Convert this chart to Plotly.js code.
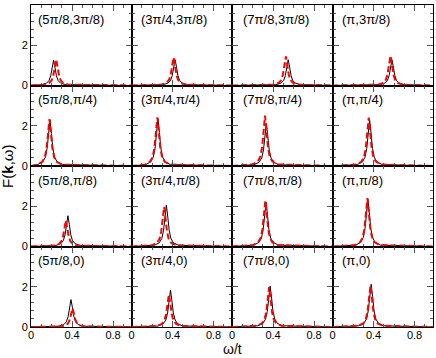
<!DOCTYPE html>
<html><head><meta charset="utf-8">
<script src="https://cdn.plot.ly/plotly-3.0.1.min.js"></script>
<style>html,body{margin:0;padding:0;background:#fff}#c{width:436px;height:358px}</style>
</head><body><div id="c"></div>
<script>
// panel labels (k_x, k_y), row by row from top
const panelLabels = [
  "(5π/8,3π/8)","(3π/4,3π/8)","(7π/8,3π/8)","(π,3π/8)",
  "(5π/8,π/4)","(3π/4,π/4)","(7π/8,π/4)","(π,π/4)",
  "(5π/8,π/8)","(3π/4,π/8)","(7π/8,π/8)","(π,π/8)",
  "(5π/8,0)","(3π/4,0)","(7π/8,0)","(π,0)"
];
const xTickVals = [0, 0.4, 0.8];
const xTickText = ["0", "0.4", "0.8"];
const yTickVals = [0, 2, 4];

// omega/t values, black (solid) curves, one list per panel
const omegaBlack = [
  [0,0.10,0.15,0.175,0.192,0.206,0.22,0.234,0.248,0.265,0.29,0.34,0.98],
  [0,0.305,0.355,0.38,0.397,0.411,0.425,0.439,0.453,0.47,0.495,0.545,0.98],
  [0,0.428,0.478,0.503,0.52,0.534,0.548,0.562,0.576,0.593,0.618,0.668,0.98],
  [0,0.46,0.51,0.535,0.552,0.566,0.58,0.594,0.608,0.625,0.65,0.70,0.98],
  [0,0.065,0.115,0.14,0.157,0.171,0.185,0.199,0.213,0.23,0.255,0.305,0.98],
  [0,0.138,0.188,0.213,0.23,0.244,0.258,0.272,0.286,0.303,0.328,0.378,0.98],
  [0,0.215,0.265,0.29,0.307,0.321,0.335,0.349,0.363,0.38,0.405,0.455,0.98],
  [0,0.242,0.292,0.317,0.334,0.348,0.362,0.376,0.39,0.407,0.432,0.482,0.98],
  [0,0.24,0.29,0.315,0.332,0.346,0.36,0.374,0.388,0.405,0.43,0.48,0.98],
  [0,0.22,0.27,0.295,0.312,0.326,0.34,0.354,0.368,0.385,0.41,0.46,0.98],
  [0,0.212,0.262,0.287,0.304,0.318,0.332,0.346,0.36,0.377,0.402,0.452,0.98],
  [0,0.225,0.275,0.30,0.317,0.331,0.345,0.359,0.373,0.39,0.415,0.465,0.98],
  [0,0.27,0.32,0.345,0.362,0.376,0.39,0.404,0.418,0.435,0.46,0.51,0.98],
  [0,0.26,0.31,0.335,0.352,0.366,0.38,0.394,0.408,0.425,0.45,0.50,0.98],
  [0,0.252,0.302,0.327,0.344,0.358,0.372,0.386,0.40,0.417,0.442,0.492,0.98],
  [0,0.257,0.307,0.332,0.349,0.363,0.377,0.391,0.405,0.422,0.447,0.497,0.98]
];
// F(k,omega), black curves
const fBlack = [
  [0,0.04,0.11,0.24,0.48,0.89,1.25,0.89,0.48,0.24,0.11,0.04,0],
  [0,0.04,0.12,0.24,0.49,0.91,1.28,0.91,0.49,0.24,0.12,0.04,0],
  [0,0.04,0.12,0.24,0.49,0.91,1.28,0.91,0.49,0.24,0.12,0.04,0],
  [0,0.04,0.12,0.24,0.49,0.91,1.28,0.91,0.49,0.24,0.12,0.04,0],
  [0,0.07,0.21,0.43,0.87,1.62,2.28,1.62,0.87,0.43,0.21,0.07,0],
  [0,0.07,0.21,0.45,0.89,1.67,2.35,1.67,0.89,0.45,0.21,0.07,0],
  [0,0.06,0.19,0.40,0.80,1.49,2.10,1.49,0.80,0.40,0.19,0.06,0],
  [0,0.07,0.21,0.44,0.87,1.63,2.30,1.63,0.87,0.44,0.21,0.07,0],
  [0,0.05,0.14,0.29,0.58,1.09,1.53,1.09,0.58,0.29,0.14,0.05,0],
  [0,0.06,0.18,0.39,0.78,1.46,2.05,1.46,0.78,0.39,0.18,0.06,0],
  [0,0.07,0.20,0.42,0.84,1.56,2.20,1.56,0.84,0.42,0.20,0.07,0],
  [0,0.07,0.21,0.45,0.89,1.67,2.35,1.67,0.89,0.45,0.21,0.07,0],
  [0,0.04,0.12,0.26,0.52,0.97,1.36,0.97,0.52,0.26,0.12,0.04,0],
  [0,0.05,0.16,0.35,0.70,1.30,1.83,1.30,0.70,0.35,0.16,0.05,0],
  [0,0.06,0.18,0.39,0.77,1.44,2.03,1.44,0.77,0.39,0.18,0.06,0],
  [0,0.06,0.19,0.40,0.81,1.51,2.12,1.51,0.81,0.40,0.19,0.06,0]
];
// omega/t values, red (dashed) curves
const omegaRed = [
  [0,0.125,0.175,0.2,0.217,0.231,0.245,0.259,0.273,0.29,0.315,0.365,0.98],
  [0,0.29,0.34,0.365,0.382,0.396,0.41,0.424,0.438,0.455,0.48,0.53,0.98],
  [0,0.405,0.455,0.48,0.497,0.511,0.525,0.539,0.553,0.57,0.595,0.645,0.98],
  [0,0.445,0.495,0.52,0.537,0.551,0.565,0.579,0.593,0.61,0.635,0.685,0.98],
  [0,0.06,0.11,0.135,0.152,0.166,0.18,0.194,0.208,0.225,0.25,0.30,0.98],
  [0,0.132,0.182,0.207,0.224,0.238,0.252,0.266,0.28,0.297,0.322,0.372,0.98],
  [0,0.202,0.252,0.277,0.294,0.308,0.322,0.336,0.35,0.367,0.392,0.442,0.98],
  [0,0.233,0.283,0.308,0.325,0.339,0.353,0.367,0.381,0.398,0.423,0.473,0.98],
  [0,0.22,0.27,0.295,0.312,0.326,0.34,0.354,0.368,0.385,0.41,0.46,0.98],
  [0,0.198,0.248,0.273,0.29,0.304,0.318,0.332,0.346,0.363,0.388,0.438,0.98],
  [0,0.205,0.255,0.28,0.297,0.311,0.325,0.339,0.353,0.37,0.395,0.445,0.98],
  [0,0.22,0.27,0.295,0.312,0.326,0.34,0.354,0.368,0.385,0.41,0.46,0.98],
  [0,0.285,0.335,0.36,0.377,0.391,0.405,0.419,0.433,0.45,0.475,0.525,0.98],
  [0,0.245,0.295,0.32,0.337,0.351,0.365,0.379,0.393,0.41,0.435,0.485,0.98],
  [0,0.242,0.292,0.317,0.334,0.348,0.362,0.376,0.39,0.407,0.432,0.482,0.98],
  [0,0.25,0.30,0.325,0.342,0.356,0.37,0.384,0.398,0.415,0.44,0.49,0.98]
];
// F(k,omega), red curves
const fRed = [
  [0,0.04,0.12,0.25,0.49,0.92,1.30,0.92,0.49,0.25,0.12,0.04,0],
  [0,0.04,0.13,0.27,0.53,0.99,1.40,0.99,0.53,0.27,0.13,0.04,0],
  [0,0.04,0.13,0.27,0.55,1.02,1.44,1.02,0.55,0.27,0.13,0.04,0],
  [0,0.04,0.13,0.28,0.56,1.05,1.48,1.05,0.56,0.28,0.13,0.04,0],
  [0,0.07,0.21,0.44,0.89,1.65,2.33,1.65,0.89,0.44,0.21,0.07,0],
  [0,0.07,0.22,0.46,0.92,1.72,2.42,1.72,0.92,0.46,0.22,0.07,0],
  [0,0.08,0.23,0.48,0.95,1.78,2.50,1.78,0.95,0.48,0.23,0.08,0],
  [0,0.07,0.22,0.46,0.91,1.70,2.40,1.70,0.91,0.46,0.22,0.07,0],
  [0,0.04,0.12,0.25,0.49,0.92,1.30,0.92,0.49,0.25,0.12,0.04,0],
  [0,0.06,0.18,0.37,0.75,1.40,1.97,1.40,0.75,0.37,0.18,0.06,0],
  [0,0.07,0.20,0.43,0.86,1.61,2.27,1.61,0.86,0.43,0.20,0.07,0],
  [0,0.07,0.22,0.46,0.91,1.70,2.40,1.70,0.91,0.46,0.22,0.07,0],
  [0,0.03,0.08,0.17,0.35,0.65,0.92,0.65,0.35,0.17,0.08,0.03,0],
  [0,0.05,0.15,0.31,0.62,1.15,1.62,1.15,0.62,0.31,0.15,0.05,0],
  [0,0.06,0.18,0.38,0.75,1.41,1.98,1.41,0.75,0.38,0.18,0.06,0],
  [0,0.06,0.18,0.39,0.78,1.46,2.05,1.46,0.78,0.39,0.18,0.06,0]
];
const labelX = [0.05, 0.075, 0.088, 0.07];

const FONT = "Liberation Sans, Arial, Helvetica, sans-serif";
const traces = [];
const layout = {
  width: 436, height: 358,
  margin: {l: 31, r: 3, t: 5, b: 31},
  paper_bgcolor: "#fff", plot_bgcolor: "#fff",
  showlegend: false,
  font: {family: FONT, size: 11, color: "#000"},
  annotations: []
};
for (let n = 0; n < 16; n++) {
  const r = Math.floor(n / 4), c = n % 4;
  const sfx = n === 0 ? "" : String(n + 1);
  traces.push({x: omegaBlack[n], y: fBlack[n], xaxis: "x" + sfx, yaxis: "y" + sfx,
    type: "scatter", mode: "lines", line: {color: "#000", width: 1}, hoverinfo: "skip"});
  traces.push({x: omegaRed[n], y: fRed[n], xaxis: "x" + sfx, yaxis: "y" + sfx,
    type: "scatter", mode: "lines", line: {color: "#ff0000", width: 2, dash: "6px,3px"}, hoverinfo: "skip"});
  layout["xaxis" + sfx] = {
    domain: [c / 4, (c + 1) / 4], anchor: "y" + sfx, range: [0, 0.98],
    tickmode: "array", tickvals: xTickVals, ticktext: xTickText,
    showticklabels: r === 3, ticks: "inside", ticklen: 6, tickwidth: 1, tickcolor: "#555",
    ticklabelstandoff: -2,
    minor: {tickmode: "linear", tick0: 0, dtick: 0.1, ticks: "inside", ticklen: 3, tickcolor: "#555", showgrid: false},
    showline: true, linecolor: "#000", linewidth: 1, mirror: "allticks",
    showgrid: false, zeroline: false, tickfont: {size: 11, family: FONT}, fixedrange: true
  };
  layout["yaxis" + sfx] = {
    domain: [1 - (r + 1) / 4, 1 - r / 4], anchor: "x" + sfx, range: [0, 4],
    tickmode: "array", tickvals: yTickVals, ticktext: r === 0 ? ["0", "2", "4"] : ["0", "2", ""],
    showticklabels: c === 0, ticks: "inside", ticklen: 6, tickwidth: 1, tickcolor: "#555",
    minor: {tickmode: "linear", tick0: 0, dtick: 0.4, ticks: "inside", ticklen: 3, tickcolor: "#555", showgrid: false},
    showline: true, linecolor: "#000", linewidth: 1, mirror: "allticks",
    showgrid: false, zeroline: false, tickfont: {size: 11, family: FONT}, fixedrange: true
  };
  layout.annotations.push({
    text: panelLabels[n], xref: "x" + sfx, yref: "y" + sfx, x: labelX[c], y: 3.3,
    xanchor: "left", yanchor: "middle", showarrow: false,
    font: {family: FONT, size: 13, color: "#000"}
  });
}
layout.annotations.push({
  text: "F(<b>k</b>,ω)", xref: "paper", yref: "paper", x: -0.06, y: 0.5,
  xanchor: "center", yanchor: "middle", textangle: -90, showarrow: false,
  font: {family: FONT, size: 15, color: "#000"}
});
layout.annotations.push({
  text: "ω/t", xref: "paper", yref: "paper", x: 0.5, y: -0.097,
  xanchor: "center", yanchor: "bottom", showarrow: false, borderpad: 0,
  font: {family: FONT, size: 14, color: "#000"}
});
Plotly.newPlot("c", traces, layout, {staticPlot: true, displayModeBar: false});
</script></body></html>
